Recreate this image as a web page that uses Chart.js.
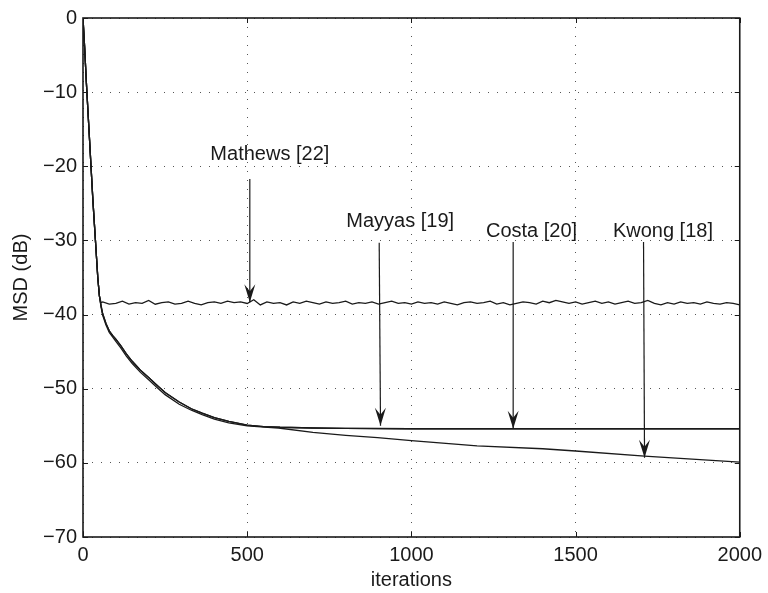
<!DOCTYPE html>
<html>
<head>
<meta charset="utf-8">
<script src="https://cdn.jsdelivr.net/npm/chart.js@4/dist/chart.umd.min.js"></script>
<style>
  html, body { margin: 0; padding: 0; background: #fff; }
  canvas { display: block; }
</style>
</head>
<body>
<canvas id="msdChart" width="768" height="593"></canvas>
<script>
// shared transient (all algorithms start together)
const startIters  = [0, 5, 10, 15, 20, 25, 30, 35, 40, 45, 50];
const startValues = [0, -4, -8.5, -12.5, -16.5, -20.5, -24.5, -28, -31.5, -35, -37.5];

// Mathews [22]: steady state around -38.4 dB
const mathewsIters = [55, 60, 80, 100, 120, 140, 160, 180, 200, 220, 240, 260, 280, 300, 320, 340, 360, 380, 400, 420, 440, 460, 480, 500, 520, 540, 560, 580, 600, 620, 640, 660, 680, 700, 720, 740, 760, 780, 800, 820, 840, 860, 880, 900, 920, 940, 960, 980, 1000, 1020, 1040, 1060, 1080, 1100, 1120, 1140, 1160, 1180, 1200, 1220, 1240, 1260, 1280, 1300, 1320, 1340, 1360, 1380, 1400, 1420, 1440, 1460, 1480, 1500, 1520, 1540, 1560, 1580, 1600, 1620, 1640, 1660, 1680, 1700, 1720, 1740, 1760, 1780, 1800, 1820, 1840, 1860, 1880, 1900, 1920, 1940, 1960, 1980, 2000];
const mathewsValues = [-38.4, -38.3, -38.6, -38.5, -38.2, -38.6, -38.4, -38.5, -38.1, -38.6, -38.4, -38.3, -38.6, -38.5, -38.2, -38.5, -38.7, -38.4, -38.3, -38.5, -38.2, -38.4, -38.3, -38.5, -38.0, -38.7, -38.3, -38.5, -38.4, -38.7, -38.3, -38.5, -38.2, -38.4, -38.6, -38.3, -38.5, -38.4, -38.2, -38.6, -38.4, -38.5, -38.3, -38.6, -38.4, -38.2, -38.5, -38.4, -38.6, -38.3, -38.5, -38.4, -38.6, -38.3, -38.5, -38.7, -38.4, -38.3, -38.5, -38.4, -38.2, -38.6, -38.4, -38.7, -38.5, -38.3, -38.4, -38.6, -38.2, -38.4, -38.1, -38.3, -38.5, -38.3, -38.6, -38.4, -38.2, -38.5, -38.3, -38.6, -38.4, -38.2, -38.5, -38.4, -38.1, -38.5, -38.7, -38.4, -38.6, -38.3, -38.5, -38.4, -38.6, -38.3, -38.5, -38.6, -38.4, -38.5, -38.7];

// Mayyas [19] / Costa [20]: converge to about -55.4 dB
const floorIters  = [55, 60, 70, 80, 90, 100, 115, 132, 150, 175, 200, 222, 250, 293, 330, 363, 400, 444, 500, 550, 600, 700, 800, 1000, 1500, 2000];
const mayyasValues = [-38.8, -39.9, -41.2, -42.2, -42.8, -43.3, -44.2, -45.3, -46.3, -47.5, -48.5, -49.4, -50.5, -51.8, -52.7, -53.3, -53.9, -54.4, -54.9, -55.1, -55.2, -55.3, -55.35, -55.4, -55.4, -55.4];
const costaValues  = [-38.8, -39.9, -41.2, -42.2, -42.8, -43.3, -44.2, -45.3, -46.3, -47.5, -48.5, -49.4, -50.5, -51.8, -52.7, -53.3, -53.9, -54.4, -54.9, -55.1, -55.2, -55.3, -55.35, -55.4, -55.4, -55.4];

// Kwong [18]: keeps decreasing
const kwongIters  = [55, 60, 70, 80, 90, 100, 115, 132, 150, 175, 200, 222, 250, 293, 330, 363, 400, 444, 500, 595, 700, 800, 897, 1000, 1200, 1400, 1500, 1710, 2000];
const kwongValues = [-39.0, -40.1, -41.4, -42.4, -43.0, -43.6, -44.5, -45.6, -46.6, -47.8, -48.8, -49.7, -50.8, -52.1, -52.9, -53.5, -54.1, -54.6, -55.0, -55.3, -55.9, -56.3, -56.6, -57.0, -57.7, -58.1, -58.4, -59.1, -59.9];

const xTicks = [0, 500, 1000, 1500, 2000];
const yTicks = [0, -10, -20, -30, -40, -50, -60, -70];

// annotation text and arrows, in data units
const annotLabels = ['Mathews [22]', 'Mayyas [19]', 'Costa [20]', 'Kwong [18]'];
const labelX  = [569, 966, 1366, 1766];
const labelY  = [-19.2, -28.2, -29.6, -29.6];
const arrowX0 = [508, 902, 1310, 1707];
const arrowY0 = [-21.7, -30.3, -30.2, -30.2];
const arrowX1 = [508, 906, 1310, 1710];
const arrowY1 = [-38.35, -55.0, -55.4, -59.3];

const FONT = '"Liberation Sans", Arial, Helvetica, sans-serif';
const INK = '#1a1a1a';

function pts(xs, ys) {
    return xs.map((v, i) => ({ x: v, y: ys[i] }));
}

const series = [
    pts(startIters.concat(mathewsIters), startValues.concat(mathewsValues)),
    pts(startIters.concat(floorIters), startValues.concat(mayyasValues)),
    pts(startIters.concat(floorIters), startValues.concat(costaValues)),
    pts(startIters.concat(kwongIters), startValues.concat(kwongValues))
];

const frame = {
    id: 'frame',
    afterDatasetsDraw(chart) {
        const { ctx, chartArea: a, scales: { x, y } } = chart;
        ctx.save();
        ctx.strokeStyle = INK;
        ctx.lineWidth = 1;
        // inward tick marks on all four sides
        xTicks.forEach(t => {
            const px = Math.round(x.getPixelForValue(t)) + 0.5;
            ctx.beginPath();
            ctx.moveTo(px, a.bottom); ctx.lineTo(px, a.bottom - 5);
            ctx.moveTo(px, a.top); ctx.lineTo(px, a.top + 5);
            ctx.stroke();
        });
        yTicks.forEach(t => {
            const py = Math.round(y.getPixelForValue(t)) + 0.5;
            ctx.beginPath();
            ctx.moveTo(a.left, py); ctx.lineTo(a.left + 5, py);
            ctx.moveTo(a.right, py); ctx.lineTo(a.right - 5, py);
            ctx.stroke();
        });
        ctx.lineWidth = 1.6;
        ctx.strokeRect(a.left, a.top, a.right - a.left, a.bottom - a.top);

        // arrows + labels
        ctx.fillStyle = INK;
        ctx.lineWidth = 1.2;
        ctx.font = '20px ' + FONT;
        ctx.textAlign = 'center';
        ctx.textBaseline = 'alphabetic';
        annotLabels.forEach((txt, i) => {
            const tx = x.getPixelForValue(labelX[i]);
            const ty = y.getPixelForValue(labelY[i]);
            ctx.fillText(txt, tx, ty);
            const x0 = x.getPixelForValue(arrowX0[i]), y0 = y.getPixelForValue(arrowY0[i]);
            const x1 = x.getPixelForValue(arrowX1[i]), y1 = y.getPixelForValue(arrowY1[i]);
            ctx.beginPath();
            ctx.moveTo(x0, y0); ctx.lineTo(x1, y1);
            ctx.stroke();
            const ang = Math.atan2(y1 - y0, x1 - x0);
            ctx.save();
            ctx.translate(x1, y1);
            ctx.rotate(ang - Math.PI / 2);
            ctx.beginPath();
            ctx.moveTo(0, 0);
            ctx.lineTo(-5.5, -18);
            ctx.lineTo(0, -11);
            ctx.lineTo(5.5, -18);
            ctx.closePath();
            ctx.fill();
            ctx.restore();
        });
        ctx.restore();
    }
};

new Chart(document.getElementById('msdChart').getContext('2d'), {
    type: 'line',
    data: {
        datasets: series.map((d, i) => ({
            label: annotLabels[i],
            data: d,
            borderColor: INK,
            borderWidth: 1.3,
            pointRadius: 0,
            tension: 0,
            fill: false
        }))
    },
    options: {
        responsive: false,
        animation: false,
        events: [],
        layout: { padding: { top: 15, right: 23, left: 0, bottom: 0 } },
        plugins: { legend: { display: false }, tooltip: { enabled: false } },
        scales: {
            x: {
                type: 'linear',
                min: 0,
                max: 2000,
                afterBuildTicks: s => { s.ticks = xTicks.map(v => ({ value: v })); },
                afterFit: s => { s.height = 56; },
                ticks: {
                    color: INK, padding: 6, maxRotation: 0, font: { family: FONT, size: 20 },
                    callback: v => String(v)
                },
                grid: { color: '#555', lineWidth: 1, drawTicks: false },
                border: { display: false, dash: [1, 8] },
                title: { display: true, text: 'iterations', color: INK, padding: { top: 0, bottom: 1 }, font: { family: FONT, size: 20 } }
            },
            y: {
                min: -70,
                max: 0,
                afterBuildTicks: s => { s.ticks = yTicks.map(v => ({ value: v })); },
                afterFit: s => { s.width = 83; },
                ticks: {
                    color: INK, padding: 6, font: { family: FONT, size: 20 },
                    callback: v => String(v).replace('-', '\u2212')
                },
                grid: { color: '#555', lineWidth: 1, drawTicks: false },
                border: { display: false, dash: [1, 8] },
                title: { display: true, text: 'MSD (dB)', color: INK, padding: { top: 9, bottom: 0 }, font: { family: FONT, size: 20 } }
            }
        }
    },
    plugins: [frame]
});
</script>
</body>
</html>
